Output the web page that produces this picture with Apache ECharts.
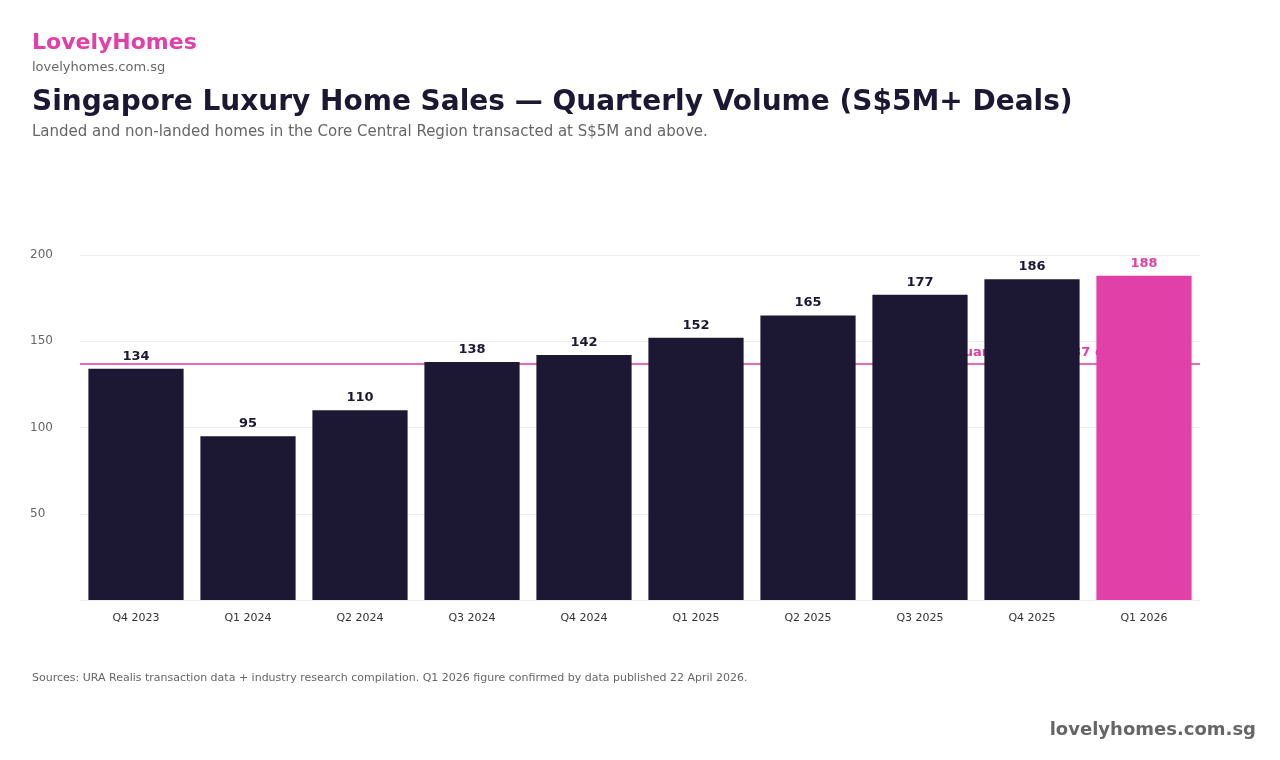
<!DOCTYPE html>
<html>
<head>
<meta charset="utf-8">
<script src="https://cdn.jsdelivr.net/npm/echarts@6/dist/echarts.min.js"></script>
<style>
html,body{margin:0;padding:0;background:#fff;}
#chart{width:1280px;height:760px;}
</style>
</head>
<body>
<div id="chart"></div>
<script>
var categories = ['Q4 2023','Q1 2024','Q2 2024','Q3 2024','Q4 2024','Q1 2025','Q2 2025','Q3 2025','Q4 2025','Q1 2026'];
var deals = [134, 95, 110, 138, 142, 152, 165, 177, 186, 188];
var averageDeals = 137;
var averageLabel = 'Quarterly avg: 137 deals';
var highlightIndex = 9;

var DARK = '#1c1833';
var PINK = '#e040a8';
var FONT = 'DejaVu Sans';

var chart = echarts.init(document.getElementById('chart'));
chart.setOption({
  backgroundColor: '#ffffff',
  textStyle: { fontFamily: FONT },
  title: [
    { text: 'LovelyHomes', left: 27, top: 27, textStyle: { fontFamily: FONT, fontSize: 22, fontWeight: 'bold', color: PINK } },
    { text: 'lovelyhomes.com.sg', left: 27, top: 56, textStyle: { fontFamily: FONT, fontSize: 13, fontWeight: 'normal', color: '#666666' } },
    { text: 'Singapore Luxury Home Sales \u2014 Quarterly Volume (S$5M+ Deals)', left: 27, top: 84, textStyle: { fontFamily: FONT, fontSize: 28, fontWeight: 'bold', color: DARK } },
    { text: 'Landed and non-landed homes in the Core Central Region transacted at S$5M and above.', left: 27, top: 120, textStyle: { fontFamily: FONT, fontSize: 15, fontWeight: 'normal', color: '#666666' } },
    { text: 'Sources: URA Realis transaction data + industry research compilation. Q1 2026 figure confirmed by data published 22 April 2026.', left: 27, top: 668, textStyle: { fontFamily: FONT, fontSize: 11, fontWeight: 'normal', color: '#666666' } },
    { text: 'lovelyhomes.com.sg', right: 19, top: 716, textStyle: { fontFamily: FONT, fontSize: 18, fontWeight: 'bold', color: '#666666' } }
  ],
  grid: { left: 80, right: 80, top: 255, bottom: 160 },
  xAxis: {
    type: 'category',
    data: categories,
    axisLine: { show: false },
    axisTick: { show: false },
    axisLabel: { fontFamily: FONT, fontSize: 11, color: '#333333', margin: 13 }
  },
  yAxis: {
    type: 'value',
    min: 0, max: 200, interval: 50,
    axisLine: { show: false },
    axisTick: { show: false },
    splitLine: { lineStyle: { color: '#eeeeee', width: 1 } },
    axisLabel: {
      fontFamily: FONT, fontSize: 12, color: '#666666',
      align: 'left', margin: 50,
      showMinLabel: false
    }
  },
  series: [{
    type: 'bar',
    data: deals.map(function (v, i) {
      return i === highlightIndex
        ? { value: v, itemStyle: { color: PINK }, label: { color: PINK } }
        : v;
    }),
    barWidth: '85%',
    itemStyle: { color: DARK },
    z: 2,
    label: {
      show: true,
      position: 'top',
      distance: 6,
      fontFamily: FONT,
      fontSize: 13,
      fontWeight: 'bold',
      color: DARK
    },
    markLine: {
      z: 1,
      silent: true,
      symbol: ['none', 'none'],
      lineStyle: { color: '#e86bb8', width: 2, type: 'solid' },
      label: {
        show: true,
        position: 'insideEndTop',
        distance: [66, 5],
        formatter: averageLabel,
        fontFamily: FONT,
        fontSize: 13,
        fontWeight: 'bold',
        color: PINK
      },
      data: [{ yAxis: averageDeals }]
    }
  }]
});
</script>
</body>
</html>
